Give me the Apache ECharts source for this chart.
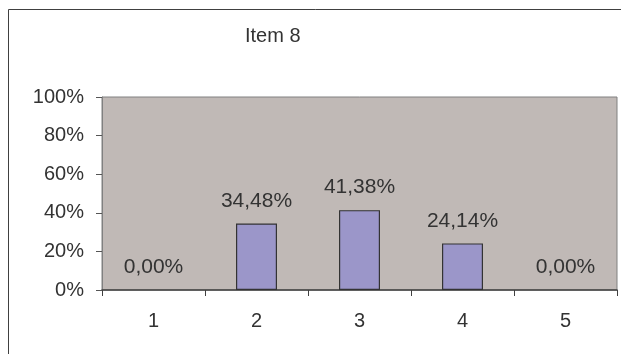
<!DOCTYPE html>
<html>
<head>
<meta charset="utf-8">
<script src="https://cdn.jsdelivr.net/npm/echarts@6/dist/echarts.min.js"></script>
<style>html,body{margin:0;padding:0;background:#fff}#c{width:621px;height:354px}</style>
</head>
<body>
<div id="c"></div>
<script>
const titleText = 'Item 8';
const categories = ['1', '2', '3', '4', '5'];
const values = [0, 34.48, 41.38, 24.14, 0];
const yTicks = [0, 20, 40, 60, 80, 100];

const chart = echarts.init(document.getElementById('c'), null, {renderer: 'canvas'});
const font = 'Liberation Sans, Arial, sans-serif';
chart.setOption({
  animation: false,
  backgroundColor: '#ffffff',
  title: {
    text: titleText, left: 245, top: 26, padding: 0,
    textStyle: {fontFamily: font, fontSize: 20, fontWeight: 'normal', color: '#333'}
  },
  graphic: [{
    type: 'rect', silent: true, z: -1,
    shape: {x: 8.5, y: 9.5, width: 800, height: 500},
    style: {fill: 'none', stroke: '#404040', lineWidth: 1}
  }],
  grid: {
    left: 102, right: 4, top: 97, bottom: 64,
    show: true, backgroundColor: '#c0b9b6', borderColor: '#808080', borderWidth: 1
  },
  xAxis: {
    type: 'category', data: categories, boundaryGap: true,
    axisLine: {lineStyle: {color: '#404040', width: 1.5}},
    axisTick: {show: true, alignWithLabel: false, length: 6, lineStyle: {color: '#404040'}},
    axisLabel: {fontFamily: font, fontSize: 20, color: '#333', margin: 21},
    splitLine: {show: false}
  },
  yAxis: {
    type: 'value', min: yTicks[0], max: yTicks[yTicks.length - 1], interval: 20,
    axisLine: {show: true, lineStyle: {color: '#808080'}},
    axisTick: {show: true, length: 6, lineStyle: {color: '#555'}},
    axisLabel: {fontFamily: font, fontSize: 20, color: '#333', margin: 18, formatter: v => v + '%'},
    splitLine: {show: false}
  },
  series: [{
    type: 'bar',
    data: values.map(v => ({value: v, itemStyle: v === 0 ? {borderWidth: 0, color: 'rgba(0,0,0,0)'} : {}})),
    barWidth: 41,
    itemStyle: {color: '#9b96c9', borderColor: '#333', borderWidth: 1.2},
    label: {
      show: true, position: 'top', distance: 12,
      fontFamily: font, fontSize: 21, color: '#333',
      formatter: p => p.value.toFixed(2).replace('.', ',') + '%'
    }
  }]
});
</script>
</body>
</html>
